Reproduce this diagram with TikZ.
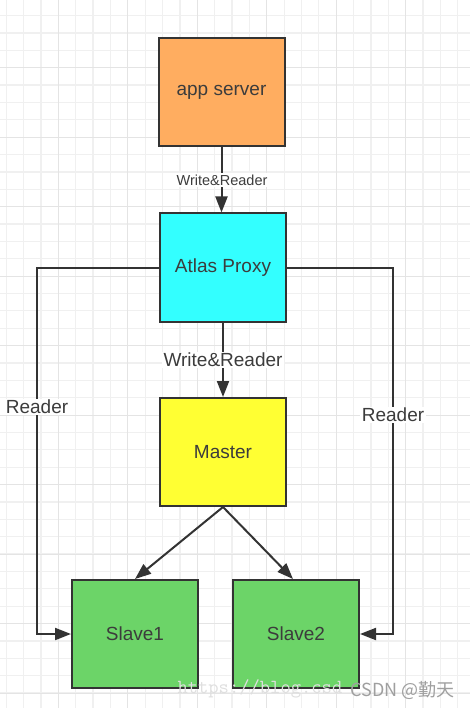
\documentclass[tikz,border=0pt]{standalone}
\usepackage{fontspec}
\setmainfont{Liberation Sans}
\newfontfamily\cjkfont{Noto Sans CJK SC}
\usepackage{xcolor}
\usepackage{tikz}
\usetikzlibrary{arrows.meta,positioning}
\definecolor{boxline}{RGB}{51,51,51}
\definecolor{textcol}{RGB}{60,60,60}
\definecolor{appcol}{RGB}{255,173,96}
\definecolor{proxycol}{RGB}{51,255,255}
\definecolor{mastercol}{RGB}{255,255,51}
\definecolor{slavecol}{RGB}{108,212,104}
\definecolor{gridminor}{RGB}{240,240,240}
\definecolor{gridmajor}{RGB}{228,228,228}
\tikzset{
  box/.style={draw=boxline,line width=2pt,minimum width=126pt,minimum height=108pt,
    inner sep=0pt,text=textcol,font=\fontsize{19}{21}\selectfont},
  link/.style={draw=boxline,line width=2pt,-{Triangle[length=16pt,width=12pt]}},
  tag/.style={fill=white,text=textcol,inner sep=1.5pt,font=\fontsize{19}{21}\selectfont}
}

\begin{document}
\begin{tikzpicture}[x=1pt,y=-1pt]
  \useasboundingbox (0,0) rectangle (470,708);
  \fill[white] (0,0) rectangle (470,708);
  \foreach \i in {0,...,26}{
    \draw[gridminor,line width=1.2pt] ({6.2+17.37*\i},0) -- ({6.2+17.37*\i},708);
  }
  \foreach \j in {0,...,40}{
    \draw[gridminor,line width=1.2pt] (0,{15.6+17.37*\j}) -- (470,{15.6+17.37*\j});
  }
  \foreach \k in {0,...,5}{
    \draw[gridmajor,line width=1pt] ({58.3+69.48*\k},0) -- ({58.3+69.48*\k},708);
  }
  \foreach \k in {0,...,9}{
    \draw[gridmajor,line width=1pt] (0,{67.7+69.48*\k}) -- (470,{67.7+69.48*\k});
  }

  \node[box,fill=appcol] (app) at (221.5,92) {app server};
  \node[box,fill=proxycol] (proxy) at (223,267.5) {Atlas Proxy};
  \node[box,fill=mastercol] (master) at (223,452) {Master};
  \node[box,fill=slavecol] (slave1) at (135,634) {Slave1};
  \node[box,fill=slavecol] (slave2) at (296,634) {Slave2};

  \coordinate (lbend) at (37,267.5);
  \coordinate (rbend) at (393,267.5);
  \draw[link] (app.south) -- (app.south |- proxy.north);
  \draw[link] (proxy.south) -- (master.north);
  \draw[link] (master.south) -- (slave1.north);
  \draw[link] (master.south) -- ([xshift=-3pt]slave2.north);
  \draw[link] (proxy.west) -- (lbend) |- (slave1.west);
  \draw[link] (proxy.east) -- (rbend) |- (slave2.east);

  \node[tag,font=\fontsize{14.5}{16}\selectfont] (wr1) at (222,180) {Write\&Reader};
  \node[tag] (wr2) at (223,360) {Write\&Reader};
  \node[tag] (rdl) at (37,407) {Reader};
  \node[tag] (rdr) at (393,415) {Reader};

  \node[text=gray!25,font=\ttfamily\fontsize{20}{21}\selectfont,anchor=west] (url) at (174,689) {https://blog.csd};
  \node[text=gray!75,font=\cjkfont\fontsize{18}{20}\selectfont,anchor=east] (mark) at (458,690) {CSDN @勤天};
\end{tikzpicture}
\end{document}
